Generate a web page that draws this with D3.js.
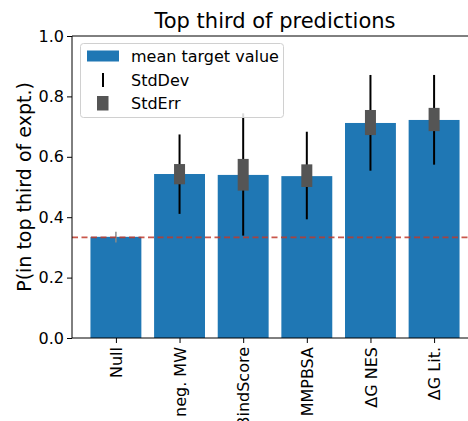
<!DOCTYPE html>
<html><head><meta charset="utf-8">
<script src="https://cdn.jsdelivr.net/npm/d3@7"></script>
<style>
body{margin:0;background:#fff;}
svg text{font-family:"DejaVu Sans",sans-serif;}
</style></head>
<body><svg id="c" width="468" height="421"></svg>
<script>
const categories = ["Null","neg. MW","BindScore","MMPBSA","\u0394G NES","\u0394G Lit."];
const meanValues = [0.335,0.543,0.540,0.536,0.712,0.722];
const stdDevLow  = [0.316,0.411,0.339,0.393,0.554,0.574];
const stdDevHigh = [0.352,0.674,0.744,0.683,0.871,0.871];
const stdErrLow  = [0.333,0.509,0.488,0.500,0.672,0.685];
const stdErrHigh = [0.335,0.576,0.593,0.575,0.755,0.762];
const nullLevel = 1/3;
const yTicks = [0,0.2,0.4,0.6,0.8,1.0];

const svg = d3.select("#c");
const L=72, R=478, T=36, B=338;
const x = d3.scaleLinear().domain([-0.69,5.69]).range([L,R]);
const y = d3.scaleLinear().domain([0,1]).range([B,T]);
const bw = 0.8;
const data = categories.map((c,i)=>({c,i,m:meanValues[i],sl:stdDevLow[i],sh:stdDevHigh[i],el:stdErrLow[i],eh:stdErrHigh[i]}));

// bars
svg.append("g").selectAll("rect").data(data).join("rect")
  .attr("x",d=>x(d.i-bw/2)).attr("width",d=>x(d.i+bw/2)-x(d.i-bw/2))
  .attr("y",d=>y(d.m)).attr("height",d=>y(0)-y(d.m))
  .attr("fill","#1f77b4");

// stddev lines
svg.append("g").selectAll("line").data(data).join("line")
  .attr("x1",d=>x(d.i)).attr("x2",d=>x(d.i))
  .attr("y1",d=>y(d.sl)).attr("y2",d=>y(d.sh))
  .attr("stroke",d=>d.c==="Null"?"#8a8a8a":"#000")
  .attr("stroke-width",d=>d.c==="Null"?1.5:2);

// stderr boxes
svg.append("g").selectAll("rect").data(data.filter(d=>d.c!=="Null")).join("rect")
  .attr("x",d=>x(d.i)-5.5).attr("width",11)
  .attr("y",d=>y(d.eh)).attr("height",d=>y(d.el)-y(d.eh))
  .attr("fill","#555555");

// null level dashed line
svg.append("line").attr("x1",L).attr("x2",468).attr("y1",y(nullLevel)).attr("y2",y(nullLevel))
  .attr("stroke","#c0392b").attr("stroke-opacity",0.85).attr("stroke-width",1.6)
  .attr("stroke-dasharray","6,3.5");

// axes
const ya = svg.append("g").attr("transform",`translate(${L},0)`)
  .call(d3.axisLeft(y).tickValues(yTicks).tickFormat(d3.format(".1f")).tickSize(5).tickPadding(3));
ya.select(".domain").remove();
ya.selectAll("text").attr("font-size",16).attr("fill","#000");
ya.selectAll("line").attr("stroke","#000");

const xa = svg.append("g").attr("transform",`translate(0,${B})`)
  .call(d3.axisBottom(x).tickValues(d3.range(categories.length)).tickFormat(i=>categories[i]).tickSize(5).tickPadding(3));
xa.select(".domain").remove();
xa.selectAll("line").attr("stroke","#000");
xa.selectAll("text").attr("font-size",16).attr("fill","#000")
  .attr("transform","rotate(-90)").attr("text-anchor","end")
  .attr("x",-9).attr("y",0).attr("dy","0.35em");

// spines
svg.append("line").attr("x1",L).attr("x2",L).attr("y1",T).attr("y2",B).attr("stroke","#000").attr("stroke-width",1);
svg.append("line").attr("x1",L).attr("x2",468).attr("y1",B).attr("y2",B).attr("stroke","#000").attr("stroke-width",1);
svg.append("line").attr("x1",L).attr("x2",468).attr("y1",T).attr("y2",T).attr("stroke","#000").attr("stroke-width",1);

// title and y label
svg.append("text").attr("x",(L+R)/2).attr("y",28).attr("text-anchor","middle").attr("font-size",21).text("Top third of predictions");
svg.append("text").attr("transform",`translate(31,${(T+B)/2}) rotate(-90)`).attr("text-anchor","middle")
  .attr("font-size",19).text("P(in top third of expt.)");

// legend
const lg = svg.append("g");
lg.append("rect").attr("x",80.5).attr("y",43.5).attr("width",203).attr("height",74).attr("rx",3)
  .attr("fill","#fff").attr("fill-opacity",0.85).attr("stroke","#d0d0d0");
lg.append("rect").attr("x",87).attr("y",50.5).attr("width",32).attr("height",11).attr("fill","#1f77b4");
lg.append("line").attr("x1",103).attr("x2",103).attr("y1",73).attr("y2",87).attr("stroke","#000").attr("stroke-width",2);
lg.append("rect").attr("x",97).attr("y",96).attr("width",11.5).attr("height",14.5).attr("fill","#555555");
[["mean target value",62],["StdDev",85.5],["StdErr",109]].forEach(([t,yy])=>{
  lg.append("text").attr("x",131).attr("y",yy).attr("font-size",16).text(t);
});
</script></body></html>
